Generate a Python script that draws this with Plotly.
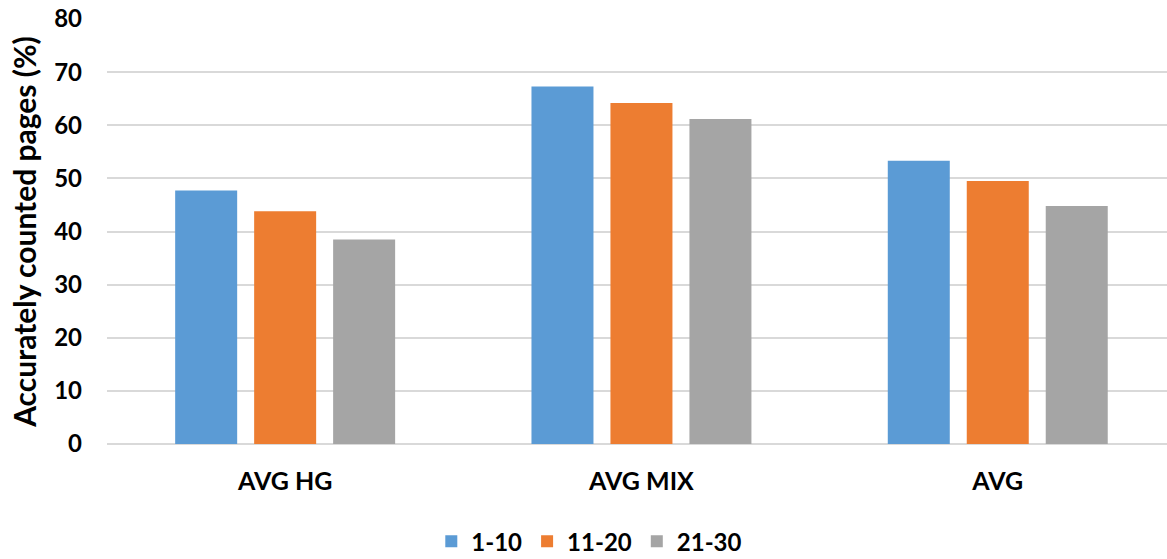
import plotly.graph_objects as go

# Page-count accuracy per dataset group, by page-range bucket
categories = ["AVG HG", "AVG MIX", "AVG"]
series_names = ["1-10", "11-20", "21-30"]
values_1_10 = [47.7, 67.3, 53.3]
values_11_20 = [43.8, 64.2, 49.5]
values_21_30 = [38.5, 61.2, 44.8]
colors = ["#5B9BD5", "#ED7D31", "#A5A5A5"]
y_ticks = [0, 10, 20, 30, 40, 50, 60, 70, 80]

FONT = "Lato"
TEXT = "#000000"

fig = go.Figure()
for name, vals, col in zip(series_names, [values_1_10, values_11_20, values_21_30], colors):
    fig.add_trace(go.Bar(
        x=categories, y=vals, name=name,
        marker=dict(color=col, line=dict(width=0)),
    ))

fig.update_layout(
    width=1167, height=559,
    margin=dict(l=107, r=0, t=19, b=115, autoexpand=False),
    paper_bgcolor="white", plot_bgcolor="white",
    barmode="group", bargap=0.335, bargroupgap=0.215,
    font=dict(family=FONT, color=TEXT, size=22),
    showlegend=True,
    legend=dict(
        orientation="h", x=0.455, xanchor="center", y=-0.177, yanchor="top",
        font=dict(family=FONT, size=24, color=TEXT, weight="bold"),
        traceorder="normal",
    ),
    xaxis=dict(
        range=[-0.5, 2.475], showgrid=False, zeroline=False, showline=False,
        ticks="", tickfont=dict(family=FONT, size=25, color=TEXT, weight="bold"),
        ticklabelstandoff=20, automargin=False,
    ),
    yaxis=dict(
        range=[0, 80], tickvals=y_ticks, showgrid=True, gridcolor="#D9D9D9", gridwidth=1.6,
        zeroline=True, zerolinecolor="#D9D9D9", zerolinewidth=2,
        showline=False, ticks="", automargin=False,
        tickfont=dict(family=FONT, size=24, color=TEXT, weight="bold"),
        ticklabelstandoff=24,
        title=dict(text="Accurately counted pages (%)", standoff=8,
                   font=dict(family=FONT, size=30, color=TEXT, weight="bold")),
    ),
)

fig.write_html("out.html")
